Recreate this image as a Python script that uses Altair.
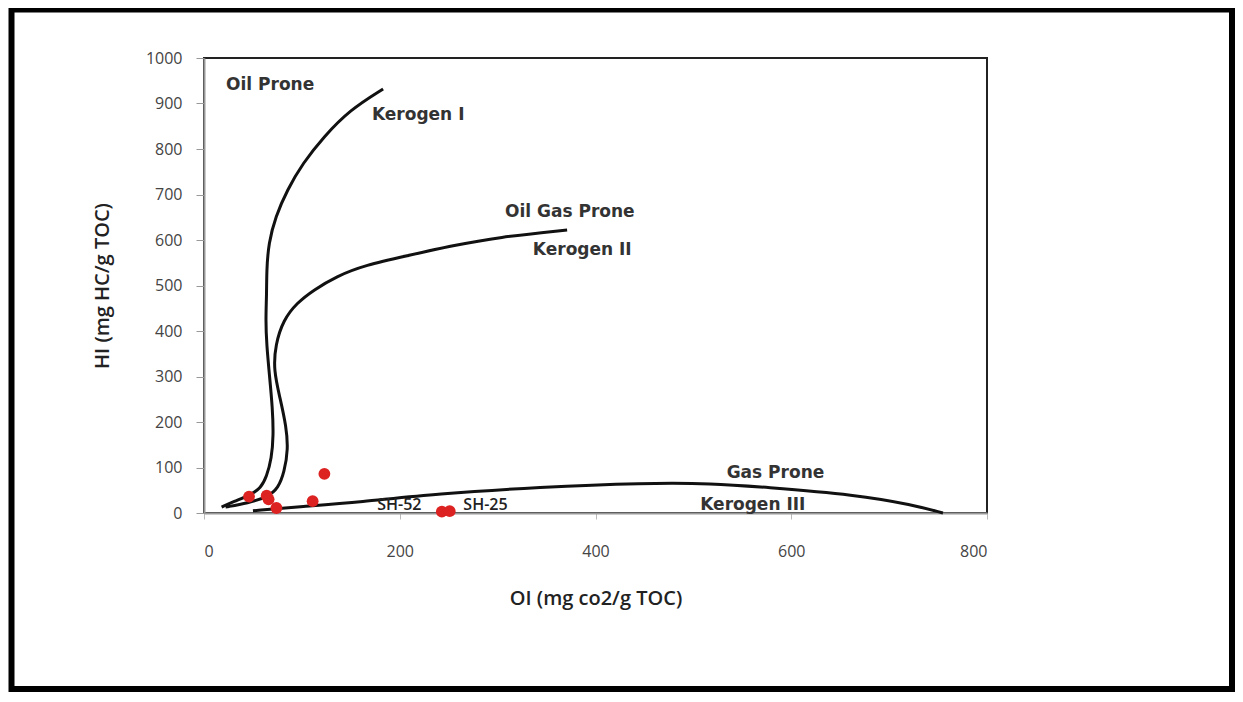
import altair as alt
import pandas as pd

# Curve traces (OI, HI)
k1_x = [18, 30, 48, 58, 64, 69, 71, 70, 67, 64, 63, 64, 64, 66, 73, 85, 101, 122, 149, 183]
k1_y = [13, 25, 40, 55, 80, 120, 170, 230, 300, 370, 424, 480, 534, 593, 651, 710, 769, 826, 886, 932]
k2_x = [22, 45, 65, 76, 82, 86, 84, 78, 71, 73, 81, 95, 112, 135, 165, 207, 255, 300, 371]
k2_y = [13, 22, 35, 55, 90, 140, 190, 250, 314, 370, 424, 462, 490, 520, 545, 565, 588, 606, 622]
k3_x = [50, 100, 159, 238, 343, 450, 520, 571, 667, 724, 755]
k3_y = [5, 14, 24, 42, 57, 66, 65, 57, 40, 18, 0]

# Samples
pt_x = [46, 64, 66, 74, 111, 123, 243, 251]
pt_y = [36, 38, 30, 11, 26, 86, 3, 4]

# Annotations
lab_text = ["Oil Prone", "Kerogen I", "Oil Gas Prone", "Kerogen II", "Gas Prone", "Kerogen III"]
lab_x = [22.5, 171.6, 307.5, 336, 534, 507]
lab_y = [941, 875, 662, 578, 88, 18]
sh_text = ["SH-52", "SH-25"]
sh_x = [177, 265]
sh_y = [18, 18]

rows = []
for name, xs_, ys_ in [("I", k1_x, k1_y), ("II", k2_x, k2_y), ("III", k3_x, k3_y)]:
    for i, (a, b) in enumerate(zip(xs_, ys_)):
        rows.append({"curve": name, "i": i, "OI": a, "HI": b})
curves = pd.DataFrame(rows)
pts = pd.DataFrame({"OI": pt_x, "HI": pt_y})
labs = pd.DataFrame({"t": lab_text, "OI": lab_x, "HI": lab_y})
shl = pd.DataFrame({"t": sh_text, "OI": sh_x, "HI": sh_y})

xs = alt.Scale(domain=[0, 800], nice=False, zero=False)
ys = alt.Scale(domain=[0, 1000], nice=False, zero=False)

xaxis = alt.Axis(values=[0, 200, 400, 600, 800], format="d", tickSize=6, labelPadding=24,
                 labelFontSize=16, labelColor="#444", labelFont="Open Sans",
                 title="OI (mg co2/g TOC)", titleFontSize=20, titleFont="Open Sans",
                 titleFontWeight=600, titleColor="#222", titlePadding=29, grid=False,
                 domainColor="#999", domainWidth=2, tickColor="#bbb")
yaxis = alt.Axis(values=list(range(0, 1001, 100)), format="d", tickSize=8, labelPadding=14,
                 labelFontSize=16, labelColor="#444", labelFont="Open Sans",
                 title="HI (mg HC/g TOC)", titleFontSize=20, titleFont="Open Sans",
                 titleFontWeight=600, titleColor="#222", titlePadding=33, grid=False,
                 domainColor="#999", domainWidth=2, tickColor="#999")

lines = alt.Chart(curves).mark_line(color="#111", strokeWidth=3, interpolate="basis").encode(
    x=alt.X("OI:Q", scale=xs, axis=xaxis),
    y=alt.Y("HI:Q", scale=ys, axis=yaxis),
    detail="curve:N",
    order="i:Q",
)
dots = alt.Chart(pts).mark_circle(color="#dd2222", opacity=1, size=140).encode(
    x=alt.X("OI:Q", scale=xs), y=alt.Y("HI:Q", scale=ys)
)
texts = alt.Chart(labs).mark_text(align="left", baseline="middle", font="DejaVu Sans",
                                   fontWeight="bold", fontSize=17, color="#333").encode(
    x=alt.X("OI:Q", scale=xs), y=alt.Y("HI:Q", scale=ys), text="t:N"
)
shtexts = alt.Chart(shl).mark_text(align="left", baseline="middle", font="Open Sans",
                                    fontSize=16, fontWeight=600, color="#222").encode(
    x=alt.X("OI:Q", scale=xs), y=alt.Y("HI:Q", scale=ys), text="t:N"
)
border = alt.Chart(alt.Data(values=[{"a": 1}])).mark_rect(filled=False, stroke="black", strokeWidth=6).encode(
    x=alt.value(-192.5), x2=alt.value(1028), y=alt.value(-48.5), y2=alt.value(631)
)

chart = alt.layer(lines, dots, texts, shtexts, border).properties(
    width=783, height=455,
    padding={"left": 196, "top": 50, "right": 248, "bottom": 179},
    autosize=alt.AutoSizeParams(type="none"),
    background="white",
).configure_view(stroke="#222", strokeWidth=2)

chart.save("out.html", embed_options={"renderer": "svg", "actions": False})
